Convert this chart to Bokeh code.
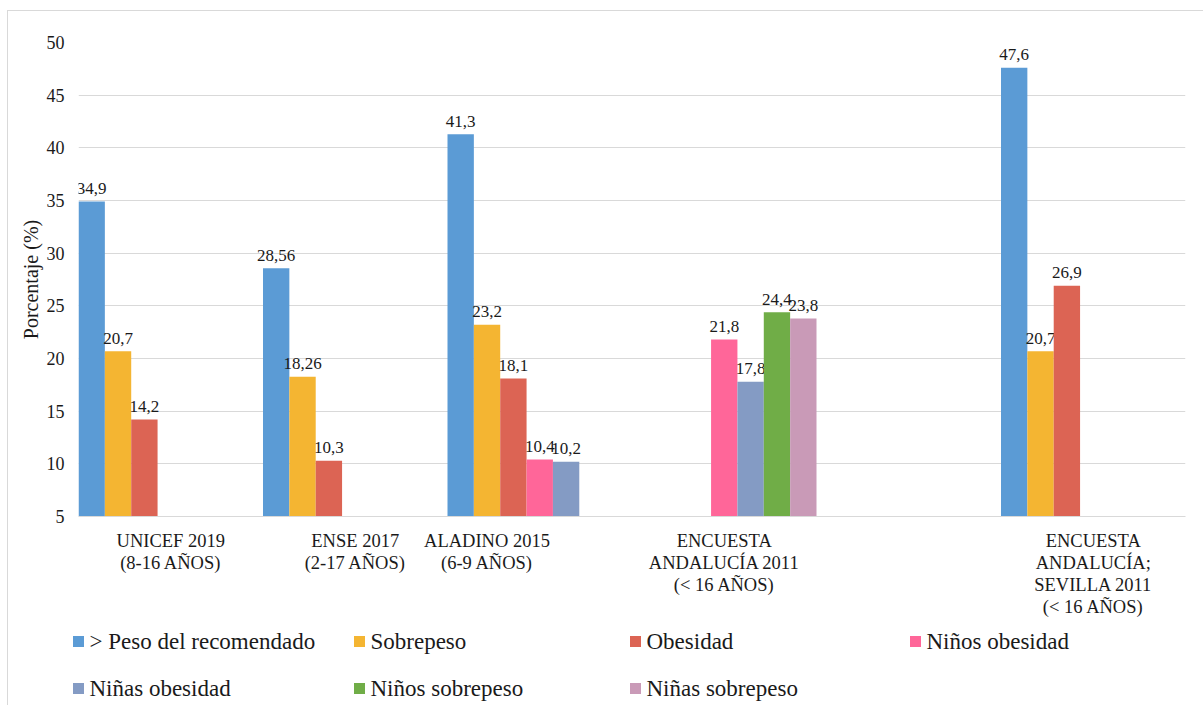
from bokeh.plotting import figure
from bokeh.models import ColumnDataSource, FixedTicker, Range1d
from bokeh.layouts import column
from bokeh.embed import file_html
from bokeh.resources import INLINE
from bokeh.core.properties import value

# ---------------- data ----------------
categories = [
    "UNICEF 2019\n(8-16 AÑOS)",
    "ENSE 2017\n(2-17 AÑOS)",
    "ALADINO 2015\n(6-9 AÑOS)",
    "ENCUESTA\nANDALUCÍA 2011\n(< 16 AÑOS)",
    "",
    "ENCUESTA\nANDALUCÍA;\nSEVILLA 2011\n(< 16 AÑOS)",
]
series_names = ["> Peso del recomendado", "Sobrepeso", "Obesidad", "Niños obesidad",
                "Niñas obesidad", "Niños sobrepeso", "Niñas sobrepeso"]
peso_recomendado = [34.9, 28.56, 41.3, None, None, 47.6]
sobrepeso = [20.7, 18.26, 23.2, None, None, 20.7]
obesidad = [14.2, 10.3, 18.1, None, None, 26.9]
ninos_obesidad = [None, None, 10.4, 21.8, None, None]
ninas_obesidad = [None, None, 10.2, 17.8, None, None]
ninos_sobrepeso = [None, None, None, 24.4, None, None]
ninas_sobrepeso = [None, None, None, 23.8, None, None]
y_ticks = [5, 10, 15, 20, 25, 30, 35, 40, 45, 50]

series_values = [peso_recomendado, sobrepeso, obesidad, ninos_obesidad,
                 ninas_obesidad, ninos_sobrepeso, ninas_sobrepeso]
colors = ["#5b9bd5", "#f4b532", "#dc6454", "#ff6699", "#849bc4", "#70ad47", "#c99ab7"]

FONT = "'Liberation Serif', Times, serif"
TXT = "#1a1a1a"
GRID = "#d9d9d9"
nser = len(series_names)
label_shift = [0, 0, -2, 0, 0, 0]  # category label horizontal shift (slots)

# ---------------- chart ----------------
p = figure(width=1196, height=610, x_range=Range1d(0, nser * len(categories)),
           y_range=Range1d(5, 50), toolbar_location=None, output_backend="svg",
           min_border_left=70, min_border_right=19, min_border_top=31, min_border_bottom=105)
p.frame_align = False
p.outline_line_color = None
p.background_fill_color = "white"
p.border_fill_color = "white"

for j, (name, vals, col) in enumerate(zip(series_names, series_values, colors)):
    xs, tops, labels = [], [], []
    for i, v in enumerate(vals):
        if v is None:
            continue
        xs.append(i * nser + j + 0.5)
        tops.append(v)
        labels.append(("%g" % v).replace(".", ","))
    src = ColumnDataSource(dict(x=xs, top=tops, label=labels))
    p.vbar(x="x", top="top", bottom=5, width=1.0, source=src, fill_color=col, line_color=None)
    p.text(x="x", y="top", text="label", source=src, text_align="center",
           text_baseline="alphabetic", y_offset=-13, text_font=value(FONT),
           text_font_size="17px", text_color=TXT)

# y axis
p.yaxis.ticker = FixedTicker(ticks=y_ticks)
p.yaxis.axis_line_color = None
p.yaxis.major_tick_line_color = None
p.yaxis.minor_tick_line_color = None
p.yaxis.major_label_text_font = FONT
p.yaxis.major_label_text_font_size = "18px"
p.yaxis.major_label_text_color = TXT
p.yaxis.major_label_standoff = 8
p.yaxis.axis_label = "Porcentaje (%)"
p.yaxis.axis_label_text_font = FONT
p.yaxis.axis_label_text_font_size = "20px"
p.yaxis.axis_label_text_font_style = "normal"
p.yaxis.axis_label_text_color = TXT
p.yaxis.axis_label_standoff = 2

# x axis with category labels
ticks, overrides = [], {}
for i, c in enumerate(categories):
    if not c:
        continue
    t = i * nser + nser / 2 + label_shift[i]
    ticks.append(t)
    overrides[t] = c
p.xaxis.ticker = FixedTicker(ticks=ticks)
p.xaxis.major_label_overrides = overrides
p.xaxis.axis_line_color = GRID
p.xaxis.major_tick_line_color = None
p.xaxis.minor_tick_line_color = None
p.xaxis.major_label_text_font = FONT
p.xaxis.major_label_text_font_size = "18.5px"
p.xaxis.major_label_text_color = TXT
p.xaxis.major_label_standoff = 8
p.xaxis.major_label_text_line_height = 1.1

p.xgrid.visible = False
p.ygrid.ticker = FixedTicker(ticks=y_ticks)
p.ygrid.grid_line_color = GRID

# ---------------- legend (manual, Excel-like placement) ----------------
leg = figure(width=1196, height=85, x_range=Range1d(8, 1204), y_range=Range1d(85, 0),
             toolbar_location=None, output_backend="svg", min_border=0,
             x_axis_type=None, y_axis_type=None)
leg.frame_align = False
leg.outline_line_color = None
leg.grid.visible = False

col_x = [78, 359, 635, 915]
row_y = [20, 67]
lx, ly, tx = [], [], []
for k in range(nser):
    r, c = divmod(k, 4)
    lx.append(col_x[c])
    ly.append(row_y[r])
    tx.append(col_x[c] + 11)
lsrc = ColumnDataSource(dict(x=lx, y=ly, tx=tx, name=series_names, color=colors))
leg.scatter(x="x", y="y", marker="square", size=11, fill_color="color", line_color=None, source=lsrc)
leg.text(x="tx", y="y", text="name", source=lsrc, text_align="left", text_baseline="middle",
         text_font=value(FONT), text_font_size="23px", text_color=TXT)

layout = column(p, leg, spacing=0, margin=(10, 0, 0, 7))
layout.styles = {"border-left": "1px solid #d9d9d9", "border-top": "1px solid #d9d9d9"}

open("out.html", "w").write(file_html(layout, INLINE))
